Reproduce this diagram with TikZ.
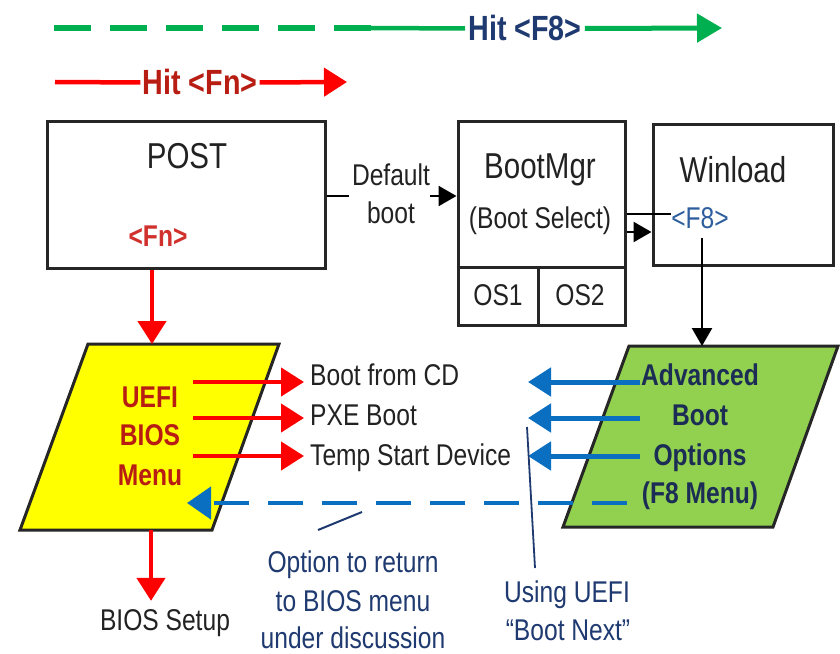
\documentclass[tikz,border=0pt]{standalone}
\usepackage{fontspec}
\setmainfont{Liberation Sans}[FakeStretch=0.82]
\usetikzlibrary{arrows.meta}
\definecolor{ired}{HTML}{FF0000}
\definecolor{dred}{HTML}{B81D13}
\definecolor{fnred}{HTML}{D0312D}
\definecolor{navy}{HTML}{1F3A70}
\definecolor{dnavy}{HTML}{1B2D55}
\definecolor{fblue}{HTML}{2E5E9E}
\definecolor{barrow}{HTML}{0B6FC1}
\definecolor{gline}{HTML}{00B050}
\definecolor{yfill}{HTML}{FFFF00}
\definecolor{gfill}{HTML}{92D050}
\definecolor{tgray}{HTML}{222222}
\begin{document}
\begin{tikzpicture}[x=1bp,y=-1bp,
  box/.style={draw=black!85, line width=3bp, inner sep=0pt},
  shapeline/.style={draw=black!85, line width=3bp, line join=miter},
  tthirty/.style={inner sep=0pt, anchor=base, text=tgray, font=\fontsize{30bp}{36bp}\selectfont},
  tbig/.style={inner sep=0pt, anchor=base, text=tgray, font=\fontsize{36bp}{42bp}\selectfont},
  hitstyle/.style={inner sep=0pt, anchor=base, font=\fontsize{35bp}{42bp}\selectfont\bfseries},
  bthirty/.style={inner sep=0pt, anchor=base, font=\fontsize{30bp}{36bp}\selectfont\bfseries},
  redarr/.style={draw=ired, line width=4.5bp, -{Triangle[length=23bp,width=28bp]}},
  bluearr/.style={draw=barrow, line width=5bp, -{Triangle[length=23bp,width=28bp]}},
  blackarr/.style={draw=black, line width=2.5bp, -{Triangle[length=18bp,width=20bp]}},
]
\fill[white] (0,0) rectangle (840,654);
\useasboundingbox (0,0) rectangle (840,654);

% ---- top legend arrows ----
\node[hitstyle, text=navy] (hitf8) at (525,41) {Hit <F8>};
\coordinate (g0) at (54,28);
\coordinate (gmid) at (371,28);
\coordinate (g1) at (722,28);
\draw[gline, line width=6bp, dash pattern=on 37bp off 19bp] (g0) -- (gmid);
\draw[gline, line width=4.5bp] (gmid) -- ([xshift=-3bp]hitf8.west);
\draw[gline, line width=5bp, -{Triangle[length=25bp,width=28bp]}] ([xshift=3bp]hitf8.east) -- (g1);

\node[hitstyle, text=dred] (hitfn) at (200,95) {Hit <Fn>};
\coordinate (r0) at (55,82);
\coordinate (r1) at (347,82);
\draw[ired, line width=4.5bp] (r0) -- ([xshift=-2bp]hitfn.west);
\draw[redarr] ([xshift=2bp]hitfn.east) -- (r1);

% ---- boxes ----
\node[box, minimum width=277bp, minimum height=146bp] (post) at (186.5,195) {};
\node[tbig] (posttxt) at (187,168) {POST};
\node[bthirty, text=fnred] (fn) at (158,246) {<Fn>};

\node[box, minimum width=167bp, minimum height=203bp] (bm) at (541.5,223.5) {};
\coordinate (bmdiv) at (538,267);
\draw[black!85, line width=3bp] (bm.west |- bmdiv) -- (bm.east |- bmdiv);
\draw[black!85, line width=3bp] (bmdiv) -- (bmdiv |- bm.south);
\node[tbig] (bmtxt) at (540,178) {BootMgr};
\node[tthirty] (bsel) at (540,228) {(Boot Select)};
\node[tthirty] (os1) at (498,305) {OS1};
\node[tthirty] (os2) at (580,305) {OS2};

\node[box, minimum width=180bp, minimum height=140bp] (wl) at (743,195) {};
\node[tbig] (wltxt) at (733,182) {Winload};
\node[tthirty, text=fblue] (f8) at (700,228) {<F8>};

% Default boot
\node[tthirty] (dflt1) at (391,185) {Default};
\node[tthirty] (dflt2) at (391,223) {boot};
\coordinate (dline) at (0,196);
\draw[black, line width=2.5bp] (post.east |- dline) -- ([xshift=-3bp]dflt1.west |- dline);
\draw[blackarr] (dflt1.east |- dline) -- (bm.west |- dline);

% BootMgr -> Winload
\coordinate (bwline) at (0,214);
\coordinate (bwarr) at (0,232);
\draw[black, line width=2.5bp] (bm.east |- bwline) -- (f8.west |- bwline);
\draw[blackarr] (bm.east |- bwarr) -- (wl.west |- bwarr);

% ---- parallelograms ----
\coordinate (ya) at (88,344);
\coordinate (yb) at (279,344);
\coordinate (yc) at (212,530);
\coordinate (yd) at (20,530);
\draw[shapeline, fill=yfill] (ya) -- (yb) -- (yc) -- (yd) -- cycle;

\coordinate (ga) at (629,346);
\coordinate (gb) at (838,346);
\coordinate (gc) at (773,527);
\coordinate (gd) at (563,527);
\draw[shapeline, fill=gfill] (ga) -- (gb) -- (gc) -- (gd) -- cycle;

% POST -> UEFI menu
\coordinate (ytop) at (152,344);
\draw[redarr] (ytop |- post.south) -- (ytop);

% Winload F8 -> Advanced
\coordinate (gtop) at (702,346);
\draw[blackarr] ([yshift=-10bp]f8.south -| gtop) -- (gtop);

% ---- texts in shapes ----
\node[bthirty, text=dred] (u1) at (150,407) {UEFI};
\node[bthirty, text=dred] (u2) at (150,445) {BIOS};
\node[bthirty, text=dred] (u3) at (150,485) {Menu};

\node[tthirty, anchor=base west] (bcd) at (310,385) {Boot from CD};
\node[tthirty, anchor=base west] (pxe) at (310,425) {PXE Boot};
\node[tthirty, anchor=base west] (tsd) at (310,465) {Temp Start Device};

% red option arrows
\coordinate (ua1) at (193,382);
\coordinate (ua2) at (193,418);
\coordinate (ua3) at (193,456);
\draw[redarr, shorten >=6bp] (ua1) -- (bcd.west |- ua1);
\draw[redarr, shorten >=6bp] (ua2) -- (pxe.west |- ua2);
\draw[redarr, shorten >=6bp] (ua3) -- (tsd.west |- ua3);

% blue option arrows
\coordinate (ba1) at (640,382);
\coordinate (ba2) at (640,418);
\coordinate (ba3) at (640,456);
\coordinate (bt1) at (528,382);
\coordinate (bt2) at (528,418);
\coordinate (bt3) at (528,456);
\draw[bluearr] (ba1) -- (bt1);
\draw[bluearr] (ba2) -- (bt2);
\draw[bluearr] (ba3) -- (bt3);

% dashed return arrow
\coordinate (bd0) at (627,503);
\coordinate (bd1) at (187,503);
\draw[draw=barrow, line width=4.5bp, dash pattern=on 35bp off 19bp, -{Triangle[length=24bp,width=32bp]}] (bd0) -- (bd1);

\node[bthirty, text=dnavy] (a1) at (700,385) {Advanced};
\node[bthirty, text=dnavy] (a2) at (700,425) {Boot};
\node[bthirty, text=dnavy] (a3) at (700,465) {Options};
\node[bthirty, text=dnavy] (a4) at (700,503) {(F8 Menu)};

% BIOS Setup
\node[tthirty] (setup) at (165,630) {BIOS Setup};
\coordinate (ybot) at (151,530);
\draw[redarr] (ybot) -- ([yshift=8bp]setup.north -| ybot);

% annotations
\node[tthirty, text=navy] (o1) at (353,572) {Option to return};
\node[tthirty, text=navy] (o2) at (353,611) {to BIOS menu};
\node[tthirty, text=navy] (o3) at (353,648) {under discussion};
\coordinate (ol0) at (318,530);
\coordinate (ol1) at (362,512);
\draw[navy, line width=2bp] (ol0) -- (ol1);

\node[tthirty, text=navy] (us1) at (567,602) {Using UEFI};
\node[tthirty, text=navy] (us2) at (568,640) {“Boot Next”};
\coordinate (ul0) at (527,427);
\coordinate (ul1) at (535,568);
\draw[navy, line width=1.8bp] (ul0) -- (ul1);
\end{tikzpicture}
\end{document}
